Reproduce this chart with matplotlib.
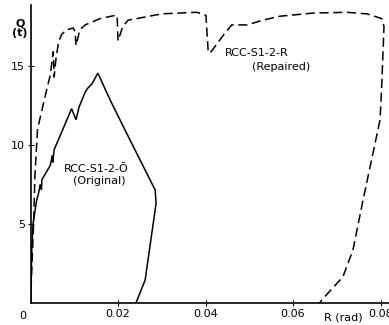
import matplotlib
matplotlib.use("Agg")
import matplotlib.pyplot as plt

# Original specimen (solid)
orig_R = [0.0, 0.0003, 0.0006, 0.0014, 0.0019, 0.0022, 0.0025, 0.0026, 0.0045, 0.0050,
          0.0051, 0.0054, 0.0071, 0.0094, 0.0104, 0.0111, 0.0125, 0.0131, 0.0140, 0.0154,
          0.0182, 0.0216, 0.0285, 0.0287, 0.0262, 0.0241]
orig_Q = [0.0, 3.5, 5.05, 6.5, 7.0, 7.5, 7.15, 7.8, 8.7, 9.35,
          8.9, 9.7, 10.8, 12.3, 11.6, 12.4, 13.35, 13.6, 13.85, 14.55,
          12.85, 10.95, 7.15, 6.3, 1.45, 0.0]

# Repaired specimen (dashed)
rep_R = [0.0, 0.0007, 0.0010, 0.0016, 0.0026, 0.0037, 0.0045, 0.0052, 0.0054, 0.0058,
         0.0064, 0.0071, 0.0083, 0.0098, 0.0102, 0.0104, 0.0113, 0.0125, 0.0159, 0.0193,
         0.0198, 0.0200, 0.0211, 0.0223, 0.0300, 0.0380, 0.0401, 0.0406, 0.0410, 0.0445,
         0.0460, 0.0495, 0.0531, 0.0570, 0.0646, 0.0723, 0.0769, 0.0803, 0.0808, 0.0803,
         0.0799, 0.0760, 0.0737, 0.0714, 0.0666, 0.0661]
rep_Q = [0.0, 5.0, 8.0, 11.0, 12.2, 13.5, 14.4, 15.9, 14.3, 15.4,
         16.5, 17.0, 17.3, 17.4, 17.15, 16.3, 17.3, 17.6, 18.0, 18.2,
         18.2, 16.6, 17.5, 17.9, 18.3, 18.4, 18.2, 16.0, 15.8, 17.1,
         17.6, 17.6, 17.9, 18.15, 18.35, 18.4, 18.3, 18.0, 17.5, 13.9,
         11.6, 6.5, 3.35, 1.65, 0.2, 0.0]

xticks = [0.02, 0.04, 0.06, 0.08]
xticklabels = ["0.02", "0.04", "0.06", "0.08"]
yticks = [5, 10, 15]
yticklabels = ["5", "10", "15"]

fig = plt.figure(figsize=(3.89, 3.25), dpi=100)
ax = fig.add_axes([30.5/389, 22/325, 1 - 30.5/389, 298/325])
ax.set_xlim(0, 358.5/4375)
ax.set_ylim(0, 298/15.8)

ax.plot(orig_R, orig_Q, color="black", lw=1.1, solid_joinstyle="miter")
ax.plot(rep_R, rep_Q, color="black", lw=1.1, linestyle=(0, (6, 3)))

for s in ["top", "right"]:
    ax.spines[s].set_visible(False)
for s in ["left", "bottom"]:
    ax.spines[s].set_linewidth(1.2)

ax.set_xticks(xticks)
ax.set_xticklabels(xticklabels, fontsize=8)
ax.set_yticks(yticks)
ax.set_yticklabels(yticklabels, fontsize=8)
ax.tick_params(axis="both", direction="inout", length=4, width=0.8, pad=2)

ax.text(-0.0017, -0.85, "0", fontsize=8, ha="center", va="center", clip_on=False)
ax.text(-0.0024, 17.4, "Q\n(t)", fontsize=8, ha="center", va="center",
        linespacing=1.0, clip_on=False, fontweight="bold")
ax.text(0.0716, -0.9, "R (rad)", fontsize=8, ha="center", va="center", clip_on=False)

ax.text(0.0077, 8.5, "RCC-S1-2-Ō", fontsize=8, ha="left", va="center")
ax.text(0.0098, 7.7, "(Original)", fontsize=8, ha="left", va="center")
ax.text(0.0445, 15.8, "RCC-S1-2-R", fontsize=8, ha="left", va="center")
ax.text(0.0506, 14.95, "(Repaired)", fontsize=8, ha="left", va="center")

fig.savefig("out.png", dpi=100)
